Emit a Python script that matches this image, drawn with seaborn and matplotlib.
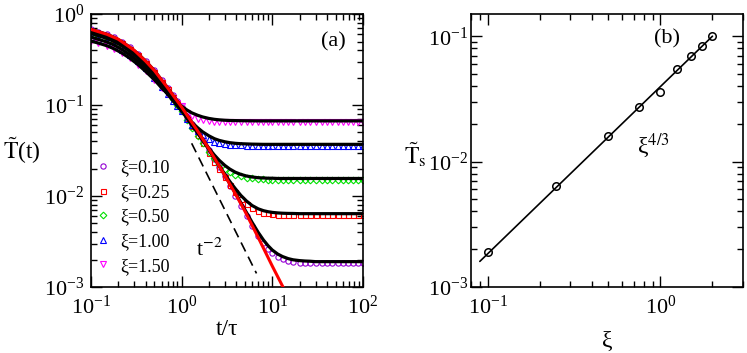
import numpy as np
import matplotlib
matplotlib.use("Agg")
import matplotlib.pyplot as plt
import seaborn as sns
from matplotlib.lines import Line2D
from matplotlib.ticker import LogLocator, NullFormatter

sns.set_theme(style="ticks")
plt.rcParams['font.family'] = ['Liberation Serif', 'DejaVu Serif']
plt.rcParams['mathtext.fontset'] = 'stix'
plt.rcParams['axes.unicode_minus'] = False
plt.rcParams['text.color'] = 'black'
plt.rcParams['axes.labelcolor'] = 'black'
plt.rcParams['xtick.color'] = 'black'
plt.rcParams['ytick.color'] = 'black'

# ---------------- panel (a) data ----------------
t = [0.1, 0.12, 0.15, 0.18, 0.22,
     0.27, 0.33, 0.4, 0.5, 0.6,
     0.7, 0.8, 0.9, 1.0, 1.15,
     1.3, 1.5, 1.7, 2.0, 2.3,
     2.6, 3.0, 3.4, 3.9, 4.5,
     5.2, 6.0, 7.0, 8.0, 9.0,
     10, 11.5, 13, 15, 17,
     20, 23, 26, 30, 35,
     40, 46, 53, 60, 68,
     77, 88, 100]

# simulation data (markers)
sim_010 = [0.680, 0.643, 0.600, 0.555, 0.496,
           0.431, 0.366, 0.305, 0.240, 0.189,
           0.155, 0.129, 0.110, 0.095, 0.0748,
           0.0623, 0.0504, 0.0414, 0.0321, 0.0254,
           0.0208, 0.0164, 0.0128, 0.0100, 0.00777,
           0.00605, 0.00471, 0.00366, 0.00302, 0.00261,
           0.00235, 0.00214, 0.00203, 0.00195, 0.00189,
           0.00185, 0.00184, 0.00183, 0.00183, 0.00183,
           0.00183, 0.00183, 0.00183, 0.00183, 0.00183,
           0.00183, 0.00183, 0.00183]
sim_025 = [0.653, 0.617, 0.576, 0.533, 0.476,
           0.414, 0.351, 0.293, 0.230, 0.181,
           0.149, 0.124, 0.106, 0.0914, 0.0721,
           0.0588, 0.0473, 0.0386, 0.0297, 0.0238,
           0.0197, 0.0160, 0.0133, 0.0111, 0.00936,
           0.00811, 0.00731, 0.0068, 0.00656, 0.00645,
           0.00635, 0.00626, 0.00621, 0.00618, 0.00615,
           0.00615, 0.00615, 0.00615, 0.00615, 0.00615,
           0.00615, 0.00615, 0.00615, 0.00615, 0.00615,
           0.00615, 0.00615, 0.00615]
sim_050 = [0.612, 0.579, 0.540, 0.500, 0.447,
           0.388, 0.330, 0.275, 0.217, 0.171,
           0.140, 0.117, 0.100, 0.0869, 0.0683,
           0.0563, 0.0454, 0.0381, 0.0308, 0.0259,
           0.0227, 0.0200, 0.0184, 0.0172, 0.0164,
           0.0159, 0.0156, 0.0153, 0.0152, 0.0151,
           0.0150, 0.0150, 0.0150, 0.0150, 0.0150,
           0.0150, 0.0150, 0.0150, 0.0150, 0.0150,
           0.0150, 0.0150, 0.0150, 0.0150, 0.0150,
           0.0150, 0.0150, 0.0150]
sim_100 = [0.559, 0.529, 0.493, 0.457, 0.408,
           0.355, 0.302, 0.253, 0.200, 0.159,
           0.132, 0.112, 0.0975, 0.0862, 0.0695,
           0.0598, 0.0519, 0.0468, 0.0422, 0.0393,
           0.0380, 0.0371, 0.0367, 0.0365, 0.0361,
           0.0359, 0.0357, 0.0356, 0.0356, 0.0356,
           0.0356, 0.0356, 0.0356, 0.0356, 0.0356,
           0.0356, 0.0356, 0.0356, 0.0356, 0.0356,
           0.0356, 0.0356, 0.0356, 0.0356, 0.0356,
           0.0356, 0.0356, 0.0356]
sim_150 = [0.507, 0.481, 0.449, 0.416, 0.373,
           0.326, 0.279, 0.235, 0.190, 0.155,
           0.133, 0.117, 0.105, 0.097, 0.081,
           0.0754, 0.0711, 0.0682, 0.0663, 0.0655,
           0.0654, 0.0654, 0.0650, 0.0648, 0.0646,
           0.0644, 0.0644, 0.0644, 0.0644, 0.0644,
           0.0644, 0.0644, 0.0644, 0.0644, 0.0644,
           0.0644, 0.0644, 0.0644, 0.0644, 0.0644,
           0.0644, 0.0644, 0.0644, 0.0644, 0.0644,
           0.0644, 0.0644, 0.0644]

# theory curves (black lines)
th_010 = [0.680, 0.643, 0.600, 0.555, 0.496,
          0.431, 0.366, 0.305, 0.240, 0.189,
          0.155, 0.129, 0.110, 0.095, 0.0771,
          0.0642, 0.0520, 0.0427, 0.0331, 0.0262,
          0.0214, 0.0169, 0.01363, 0.01087, 0.00845,
          0.00658, 0.00512, 0.00398, 0.00328, 0.00284,
          0.00255, 0.0023, 0.00216, 0.00205, 0.00199,
          0.00195, 0.00193, 0.00192, 0.0019, 0.0019,
          0.0019, 0.0019, 0.0019, 0.0019, 0.0019,
          0.0019, 0.0019, 0.0019]
th_025 = [0.653, 0.617, 0.576, 0.533, 0.476,
          0.414, 0.351, 0.293, 0.230, 0.181,
          0.149, 0.124, 0.106, 0.0914, 0.0743,
          0.0619, 0.0503, 0.0415, 0.0323, 0.0259,
          0.0214, 0.01735, 0.01446, 0.0121, 0.01017,
          0.00881, 0.00786, 0.00723, 0.0069, 0.00672,
          0.00661, 0.00652, 0.00647, 0.00644, 0.00643,
          0.0064, 0.0064, 0.0064, 0.0064, 0.0064,
          0.0064, 0.0064, 0.0064, 0.0064, 0.0064,
          0.0064, 0.0064, 0.0064]
th_050 = [0.612, 0.579, 0.540, 0.500, 0.447,
          0.388, 0.330, 0.275, 0.217, 0.171,
          0.140, 0.117, 0.100, 0.0869, 0.0711,
          0.0599, 0.0493, 0.0414, 0.0335, 0.0282,
          0.0247, 0.0217, 0.0198, 0.0183, 0.0173,
          0.0166, 0.0162, 0.0159, 0.0158, 0.0157,
          0.0157, 0.0156, 0.0156, 0.0156, 0.0156,
          0.0156, 0.0156, 0.0156, 0.0156, 0.0156,
          0.0156, 0.0156, 0.0156, 0.0156, 0.0156,
          0.0156, 0.0156, 0.0156]
th_100 = [0.559, 0.529, 0.493, 0.457, 0.408,
          0.355, 0.302, 0.253, 0.200, 0.159,
          0.132, 0.112, 0.0975, 0.0862, 0.0732,
          0.0643, 0.0564, 0.0509, 0.0459, 0.0427,
          0.0409, 0.0395, 0.0386, 0.0380, 0.0376,
          0.0374, 0.0372, 0.0371, 0.037, 0.037,
          0.037, 0.037, 0.037, 0.037, 0.037,
          0.037, 0.037, 0.037, 0.037, 0.037,
          0.037, 0.037, 0.037, 0.037, 0.037,
          0.037, 0.037, 0.037]
th_150 = [0.507, 0.481, 0.449, 0.416, 0.373,
          0.326, 0.279, 0.235, 0.190, 0.155,
          0.133, 0.117, 0.105, 0.097, 0.088,
          0.082, 0.0773, 0.0741, 0.0713, 0.0697,
          0.0688, 0.0681, 0.0677, 0.0675, 0.0673,
          0.0672, 0.0671, 0.067, 0.067, 0.067,
          0.067, 0.067, 0.067, 0.067, 0.067,
          0.067, 0.067, 0.067, 0.067, 0.067,
          0.067, 0.067, 0.067, 0.067, 0.067,
          0.067, 0.067, 0.067]

# xi -> 0 limit (red line)
red_t = [0.1, 0.15, 0.2, 0.3, 0.4, 0.5, 0.7, 1.0, 1.5, 2.0, 3.0, 4.0, 5.0, 7.0, 10, 13, 15]
red_y = [0.68, 0.60, 0.53, 0.40, 0.305, 0.24, 0.155, 0.095, 0.052, 0.033,
         0.0168, 0.0102, 0.0068, 0.0035, 0.0017, 0.00102, 0.00077]

# t^-2 guide (dashed)
dash_t = [1.29, 6.7]
dash_y = [0.038, 0.00141]

labels = ['ξ=0.10', 'ξ=0.25', 'ξ=0.50', 'ξ=1.00', 'ξ=1.50']
colors = ['#9400D3', '#FF0000', '#00E000', '#0000FF', '#FF00FF']
markers = ['o', 's', 'D', '^', 'v']
sims = [sim_010, sim_025, sim_050, sim_100, sim_150]
ths = [th_010, th_025, th_050, th_100, th_150]

# ---------------- panel (b) data ----------------
xi = [0.1, 0.25, 0.5, 0.75, 1.0, 1.25, 1.5, 1.75, 2.0]
Ts = [0.0019, 0.0064, 0.0161, 0.0273, 0.0357, 0.055, 0.0689, 0.083, 0.1]
fit_x = [0.09, 2.0]
fit_y = [0.0016, 0.1]

fig = plt.figure(figsize=(7.47, 3.53), dpi=100)
axA = fig.add_axes([0.1218, 0.187, 0.364, 0.773])
axB = fig.add_axes([0.6305, 0.187, 0.364, 0.773])

for ax in (axA, axB):
    ax.set_xscale('log')
    ax.set_yscale('log')

# markers
msizes = [3.8, 3.6, 3.4, 3.8, 3.8]
for s, c, m, ms in zip(sims, colors, markers, msizes):
    sns.lineplot(x=t, y=s, ax=axA, color=c, marker=m, linestyle='none',
                 markersize=ms, markerfacecolor='none', markeredgecolor=c,
                 markeredgewidth=0.8, zorder=2)
# theory lines
for th in ths:
    sns.lineplot(x=t, y=th, ax=axA, color='black', linewidth=2.3, zorder=3)
sns.lineplot(x=red_t, y=red_y, ax=axA, color='#FF0000', linewidth=2.2, zorder=4)
sns.lineplot(x=dash_t, y=dash_y, ax=axA, color='black', linewidth=1.2,
             linestyle=(0, (6, 3.5)), zorder=4)

axA.set_xlim(0.1, 100)
axA.set_ylim(1e-3, 1)

handles = [Line2D([], [], linestyle='none', marker=m, markersize=ms,
                  markerfacecolor='none', markeredgecolor=c, markeredgewidth=0.8)
           for c, m, ms in zip(colors, markers, msizes)]
axA.legend(handles, labels, loc='lower left', bbox_to_anchor=(0.011, 0.045),
           frameon=False, fontsize=13, handlelength=1.0, handletextpad=0.45,
           labelspacing=0.42, borderpad=0, borderaxespad=0)

axA.text(0.89, 0.897, '(a)', transform=axA.transAxes, ha='center', va='center', fontsize=16)
axA.text(1.45, 0.00255, 't$^{-2}$', ha='left', va='center', fontsize=16)

axA.set_xlabel('t/τ', fontsize=17)
axA.xaxis.set_label_coords(0.5, -0.157)
axA.xaxis.label.set_va('center')
axA.set_ylabel(r'$\tilde{\mathrm{T}}$(t)', fontsize=17, rotation=0)
axA.yaxis.set_label_coords(-0.255, 0.50)
axA.yaxis.label.set_va('center')
axA.yaxis.label.set_ha('center')

# panel (b)
sns.lineplot(x=fit_x, y=fit_y, ax=axB, color='black', linewidth=1.2, zorder=2)
sns.lineplot(x=xi, y=Ts, ax=axB, color='black', marker='o', linestyle='none',
             markersize=5.4, markerfacecolor='none', markeredgecolor='black',
             markeredgewidth=1.1, zorder=3)
axB.set_xlim(0.08, 3)
axB.set_ylim(1e-3, 0.15)
axB.text(0.72, 0.908, '(b)', transform=axB.transAxes, ha='center', va='center', fontsize=16)
axB.text(0.73, 0.0135, 'ξ$^{4/3}$', ha='left', va='center', fontsize=17)
axB.set_xlabel('ξ', fontsize=17)
axB.xaxis.set_label_coords(0.5, -0.20)
axB.xaxis.label.set_va('center')
axB.set_ylabel(r'$\tilde{\mathrm{T}}_{\mathrm{s}}$', fontsize=17, rotation=0)
axB.yaxis.set_label_coords(-0.205, 0.484)
axB.yaxis.label.set_va('center')
axB.yaxis.label.set_ha('center')

for ax in (axA, axB):
    ax.xaxis.set_minor_locator(LogLocator(base=10, subs=np.arange(2, 10), numticks=20))
    ax.yaxis.set_minor_locator(LogLocator(base=10, subs=np.arange(2, 10), numticks=20))
    ax.xaxis.set_minor_formatter(NullFormatter())
    ax.yaxis.set_minor_formatter(NullFormatter())
    ax.tick_params(which='both', direction='in', top=True, right=True,
                   width=1.0, colors='black', labelsize=16)
    ax.tick_params(which='major', length=8)
    ax.tick_params(which='minor', length=4.5)
    ax.tick_params(axis='x', which='major', pad=6)
    for sp in ax.spines.values():
        sp.set_linewidth(1.2)
        sp.set_color('black')
axA.tick_params(axis='y', which='major', pad=5)
axB.tick_params(axis='y', which='major', pad=2)

fig.savefig('out.png', dpi=100)
